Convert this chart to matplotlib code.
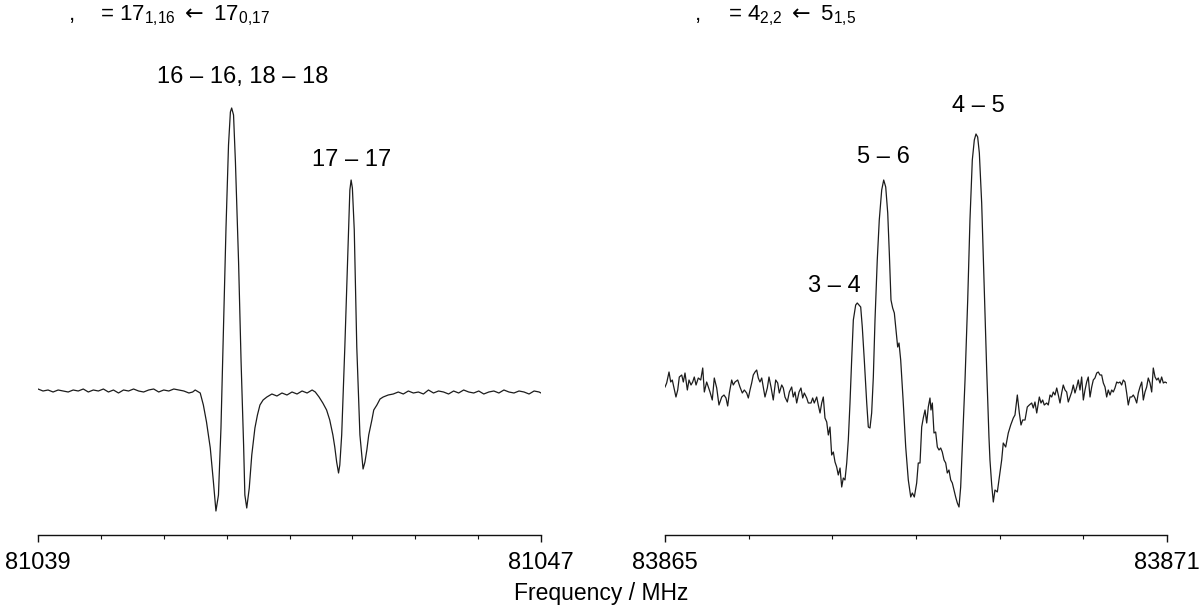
import matplotlib
matplotlib.use("Agg")
import matplotlib.pyplot as plt
from matplotlib.ticker import MultipleLocator

plt.rcParams['font.family'] = ['Liberation Sans', 'DejaVu Sans']
plt.rcParams['mathtext.fontset'] = 'custom'
plt.rcParams['mathtext.rm'] = 'Liberation Sans'
plt.rcParams['mathtext.it'] = 'Liberation Sans:italic'
plt.rcParams['mathtext.sf'] = 'DejaVu Sans'
plt.rcParams['mathtext.default'] = 'regular'

# ---------------- data ----------------
left_xlim = [81039, 81047]
right_xlim = [83865, 83871]
left_titles = [",", r"= 17$_{1{,}16}$ $\mathsf{\leftarrow}$ 17$_{0{,}17}$"]
right_titles = [",", r"= 4$_{2{,}2}$ $\mathsf{\leftarrow}$ 5$_{1{,}5}$"]
xlabel = "Frequency / MHz"

left_labels = ["16 – 16, 18 – 18", "17 – 17"]
left_label_freq = [81042.26, 81043.99]
left_label_int = [308, 225]
right_labels = ["3 – 4", "5 – 6", "4 – 5"]
right_label_freq = [83867.03, 83867.606, 83868.741]
right_label_int = [93, 222, 273]

# left spectrum (frequency in MHz, intensity in arbitrary units)
left_freq = [
    81039.00, 81039.08, 81039.16, 81039.24, 81039.32, 81039.40, 81039.48, 81039.56, 81039.64, 81039.72,
    81039.80, 81039.88, 81039.96, 81040.04, 81040.12, 81040.20, 81040.28, 81040.36, 81040.44, 81040.52,
    81040.60, 81040.68, 81040.76, 81040.84, 81040.92, 81041.00, 81041.08, 81041.16, 81041.24, 81041.32,
    81041.40,
    81041.46, 81041.50, 81041.58, 81041.63, 81041.68, 81041.74, 81041.79, 81041.83, 81041.87, 81041.91,
    81041.95, 81041.99, 81042.03, 81042.06, 81042.08, 81042.11, 81042.14, 81042.19, 81042.23, 81042.27,
    81042.29, 81042.32, 81042.36, 81042.40, 81042.45, 81042.49, 81042.53, 81042.58,
    81042.64, 81042.72, 81042.80, 81042.88, 81042.96, 81043.04, 81043.12, 81043.20, 81043.28, 81043.36,
    81043.41,
    81043.47, 81043.53, 81043.59, 81043.64, 81043.69, 81043.72, 81043.75, 81043.78, 81043.80, 81043.83,
    81043.88, 81043.94, 81043.96, 81043.98, 81044.00, 81044.03, 81044.07, 81044.12, 81044.17, 81044.20,
    81044.23, 81044.26, 81044.31, 81044.34, 81044.39, 81044.44, 81044.49, 81044.57,
    81044.65, 81044.73, 81044.81, 81044.89, 81044.97, 81045.05, 81045.13, 81045.21, 81045.29, 81045.37,
    81045.45, 81045.53, 81045.61, 81045.69, 81045.77, 81045.85, 81045.93, 81046.01, 81046.09, 81046.17,
    81046.25, 81046.33, 81046.41, 81046.49, 81046.57, 81046.65, 81046.73, 81046.81, 81046.89, 81046.97,
    81047.00,
]
left_int = [
    2, 0, 1, -1, 1, 0, -1, 1, 0, 2,
    -1, 1, 0, 2, -1, 1, -2, 1, 0, 2,
    0, -1, 1, 2, -1, 1, 0, 2, 1, 0,
    -2,
    -1, 1, -2, -14, -31, -57, -91, -120, -104, -37,
    63, 163, 246, 279, 283, 276, 229, 129, 29, -54,
    -104, -117, -97, -64, -37, -24, -14, -9,
    -6, -3, -5, -2, -4, -1, -3, 0, -2, 1,
    -1,
    -6, -12, -19, -29, -44, -56, -71, -82, -74, -44,
    44, 161, 201, 211, 203, 161, 44, -44, -78, -71,
    -59, -44, -29, -19, -14, -8, -6, -4,
    -3, -1, -3, 0, -2, -1, -3, 1, -2, 0,
    -1, -3, 0, -2, 1, -1, -2, 0, -3, -1,
    0, -2, 1, -1, -2, 0, -1, -3, 0, -1,
    -2,
]

# right spectrum
right_freq = [
    83865.000, 83865.020, 83865.048, 83865.068, 83865.087, 83865.108, 83865.131, 83865.152, 83865.171, 83865.200,
    83865.219, 83865.239, 83865.267, 83865.287, 83865.311, 83865.331, 83865.350, 83865.371, 83865.398, 83865.427,
    83865.451, 83865.470, 83865.498, 83865.518, 83865.538, 83865.565, 83865.589, 83865.618, 83865.645, 83865.678,
    83865.705, 83865.729, 83865.749, 83865.769, 83865.797, 83865.816, 83865.837, 83865.869, 83865.896, 83865.924,
    83865.948, 83865.976, 83865.996, 83866.016, 83866.036, 83866.055, 83866.076, 83866.096, 83866.115, 83866.135,
    83866.156, 83866.175, 83866.195, 83866.223, 83866.243, 83866.267, 83866.294, 83866.323, 83866.347, 83866.366,
    83866.395, 83866.414, 83866.434, 83866.462, 83866.486, 83866.514, 83866.533, 83866.554, 83866.574, 83866.602,
    83866.625, 83866.646, 83866.665, 83866.694, 83866.713, 83866.745, 83866.765, 83866.784, 83866.813, 83866.832,
    83866.853, 83866.873, 83866.892, 83866.912, 83866.933, 83866.952, 83866.972, 83866.992, 83867.012, 83867.032,
    83867.052, 83867.071, 83867.092, 83867.112, 83867.131, 83867.151, 83867.172, 83867.191, 83867.211, 83867.231,
    83867.251, 83867.279, 83867.298, 83867.319, 83867.339, 83867.358, 83867.382, 83867.411, 83867.430, 83867.450,
    83867.470, 83867.490, 83867.510, 83867.537, 83867.561, 83867.590, 83867.614, 83867.638, 83867.662, 83867.681,
    83867.701, 83867.721, 83867.741, 83867.761, 83867.781, 83867.797, 83867.817, 83867.848, 83867.877, 83867.908,
    83867.937, 83867.956, 83867.980, 83868.008, 83868.027, 83868.048, 83868.068, 83868.087, 83868.108, 83868.128,
    83868.147, 83868.167, 83868.179, 83868.195, 83868.215, 83868.235, 83868.255, 83868.275, 83868.295, 83868.314,
    83868.335, 83868.355, 83868.374, 83868.394, 83868.415, 83868.434, 83868.454, 83868.474, 83868.494, 83868.514,
    83868.534, 83868.553, 83868.586, 83868.618, 83868.645, 83868.673, 83868.697, 83868.717, 83868.737, 83868.757,
    83868.785, 83868.813, 83868.845, 83868.872, 83868.884, 83868.905, 83868.924, 83868.944, 83868.972, 83868.996,
    83869.024, 83869.043, 83869.072, 83869.103, 83869.132, 83869.163, 83869.183, 83869.211, 83869.235, 83869.255,
    83869.275, 83869.303, 83869.330, 83869.354, 83869.383, 83869.402, 83869.422, 83869.443, 83869.474, 83869.494,
    83869.514, 83869.533, 83869.562, 83869.581, 83869.602, 83869.622, 83869.641, 83869.661, 83869.682, 83869.701,
    83869.721, 83869.741, 83869.760, 83869.781, 83869.801, 83869.820, 83869.841, 83869.861, 83869.880, 83869.900,
    83869.921, 83869.940, 83869.960, 83869.980, 83870.000, 83870.020, 83870.040, 83870.059, 83870.080, 83870.100,
    83870.119, 83870.139, 83870.160, 83870.179, 83870.199, 83870.219, 83870.239, 83870.259, 83870.279, 83870.298,
    83870.319, 83870.339, 83870.358, 83870.378, 83870.399, 83870.418, 83870.438, 83870.458, 83870.478, 83870.498,
    83870.518, 83870.537, 83870.558, 83870.578, 83870.597, 83870.617, 83870.638, 83870.657, 83870.677, 83870.698,
    83870.717, 83870.737, 83870.757, 83870.776, 83870.797, 83870.817, 83870.836, 83870.857, 83870.877, 83870.896,
    83870.916, 83870.936, 83870.956, 83870.976, 83871.000,
]
right_int = [
    -2, 2, 13, 3, 5, -3, -12, -5, 8, 10,
    3, 12, -5, 5, 0, 3, 8, 0, 7, 5,
    17, -7, 3, -2, -7, -15, 7, -3, -20, -12,
    -10, -13, -21, -8, 5, 0, 3, 5, -2, -8,
    -5, -8, -13, -5, 2, 10, 13, 15, 7, 3,
    7, -2, -12, -3, 8, -2, -15, 5, 2, -8,
    0, -3, -12, -17, -7, -2, -12, -7, -18, -7,
    -3, -13, -8, -13, -18, -18, -13, -18, -12, -20,
    -28, -18, -12, -33, -37, -50, -42, -70, -67, -77,
    -82, -90, -83, -102, -93, -95, -78, -55, -18, 25,
    65, 80, 82, 80, 78, 58, 25, -18, -42, -43,
    -28, 8, 65, 125, 165, 195, 205, 198, 172, 132,
    85, 77, 72, 55, 38, 42, 25, -18, -62, -95,
    -112, -108, -112, -98, -78, -78, -42, -33, -25, -38,
    -22, -13, -25, -18, -48, -47, -62, -65, -63, -67,
    -75, -78, -88, -85, -95, -98, -105, -112, -118, -122,
    -102, -62, 5, 85, 165, 225, 245, 251, 248, 232,
    182, 105, 15, -52, -75, -100, -117, -105, -107, -92,
    -75, -58, -62, -48, -40, -33, -30, -10, -28, -40,
    -35, -35, -22, -20, -18, -23, -17, -28, -12, -18,
    -15, -20, -18, -20, -10, -12, -7, -10, -3, -10,
    -18, -8, 0, -5, -7, -17, -12, -7, 0, -8,
    -2, 5, -5, 8, -15, -5, 3, 8, -12, -2,
    5, 7, 12, 13, 10, 10, 2, -2, -12, -5,
    -10, -5, -7, -3, 3, 2, 3, 0, 5, 3,
    -8, -20, -12, -12, -10, -13, -18, -8, -2, 3,
    -15, -7, -2, 7, 2, -7, 17, 8, 5, 7,
    2, 8, 2, 3, 2,
]

# ---------------- figure ----------------
W, H = 1200, 607
fig = plt.figure(figsize=(W / 100, H / 100), dpi=100)
ax1 = fig.add_axes([38 / W, 72 / H, 503 / W, 505 / H])
ax2 = fig.add_axes([665 / W, 72 / H, 502 / W, 505 / H])

line_color = '#1c1c1c'
panels = [
    (ax1, left_freq, left_int, left_xlim, (-144, 361), left_labels, left_label_freq, left_label_int),
    (ax2, right_freq, right_int, right_xlim, (-150, 355), right_labels, right_label_freq, right_label_int),
]
for ax, fr, it, xl, yl, labs, lf, li in panels:
    ax.plot(fr, it, color=line_color, lw=0.9)
    ax.set_xlim(*xl)
    ax.set_ylim(*yl)
    for s in ('top', 'left', 'right'):
        ax.spines[s].set_visible(False)
    ax.spines['bottom'].set_linewidth(1.0)
    ax.spines['bottom'].set_color('#111111')
    ax.set_yticks([])
    ax.set_xticks(xl)
    ax.set_xticklabels([str(v) for v in xl])
    ax.xaxis.set_minor_locator(MultipleLocator(1))
    ax.tick_params(axis='x', which='major', direction='out', length=5, width=1.0,
                   labelsize=17, pad=7, color='#111111')
    ax.tick_params(axis='x', which='minor', direction='out', length=3, width=0.8,
                   color='#111111')
    ax.patch.set_visible(False)
    for t, x, y in zip(labs, lf, li):
        ax.text(x, y, t, ha='center', va='baseline', fontsize=17)

title_y = 1 - 20 / H
fig.text(72 / W, title_y, left_titles[0], ha='center', va='baseline', fontsize=16)
fig.text(100 / W, title_y, left_titles[1], ha='left', va='baseline', fontsize=16)
fig.text(698 / W, title_y, right_titles[0], ha='center', va='baseline', fontsize=16)
fig.text(728 / W, title_y, right_titles[1], ha='left', va='baseline', fontsize=16)

fig.text(601 / W, 7 / H, xlabel, ha='center', va='baseline', fontsize=16.5)

fig.savefig('out.png', dpi=100)
